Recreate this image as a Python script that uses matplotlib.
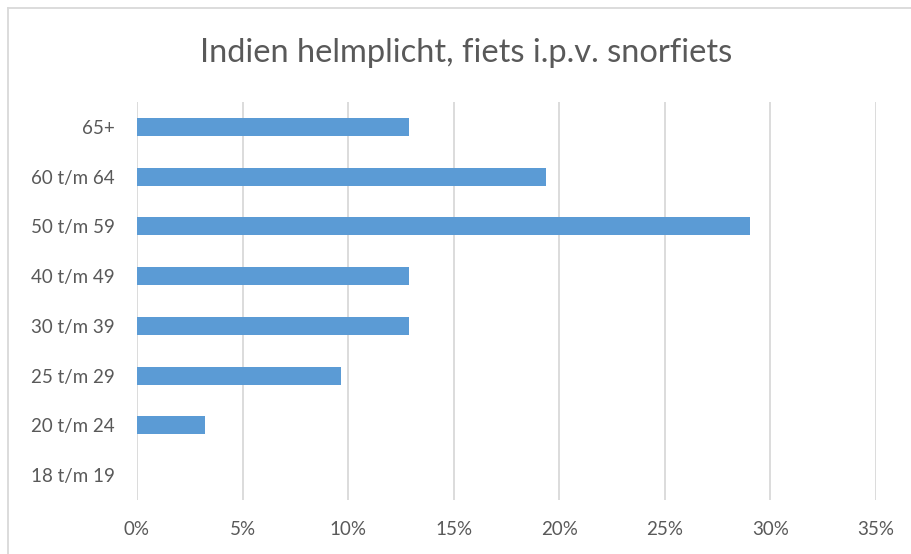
import matplotlib
matplotlib.use("Agg")
import matplotlib.pyplot as plt
from matplotlib.ticker import PercentFormatter
import numpy as np

# leeftijdsgroepen van onder naar boven
categories = ["18 t/m 19", "20 t/m 24", "25 t/m 29", "30 t/m 39",
              "40 t/m 49", "50 t/m 59", "60 t/m 64", "65+"]
shares = [0.0, 3.23, 9.68, 12.90, 12.90, 29.03, 19.35, 12.90]
xticks = [0, 5, 10, 15, 20, 25, 30, 35]

title = "Indien helmplicht, fiets i.p.v. snorfiets"
text_color = "#595959"
grid_color = "#D9D9D9"
bar_color = "#5B9BD5"

plt.rcParams["font.family"] = ["Lato", "DejaVu Sans"]

fig = plt.figure(figsize=(9.12, 5.54), dpi=100)
ax = fig.add_axes([137 / 912, 1 - 500 / 554, (876 - 137) / 912, (500 - 102) / 554])

y = np.arange(len(categories))
ax.barh(y, shares, height=0.36, color=bar_color, zorder=3)

ax.set_xlim(0, 35)
ax.set_ylim(-0.5, len(categories) - 0.5)
ax.set_xticks(xticks)
ax.xaxis.set_major_formatter(PercentFormatter(decimals=0))
ax.set_yticks(y)
ax.set_yticklabels(categories)

ax.grid(axis="x", color=grid_color, linewidth=1.3, zorder=0)
for s in ax.spines.values():
    s.set_visible(False)
ax.tick_params(axis="both", length=0, labelsize=13.5, colors=text_color)
ax.tick_params(axis="x", pad=15)
ax.tick_params(axis="y", pad=16)

fig.text(466 / 912, 1 - 53 / 554, title, ha="center", va="center",
         fontsize=23.5, color=text_color)

# chart border (top and left visible)
fig.add_artist(plt.Line2D([8 / 912, 1.0], [1 - 8 / 554, 1 - 8 / 554],
                          transform=fig.transFigure, color=grid_color, linewidth=1.3))
fig.add_artist(plt.Line2D([8 / 912, 8 / 912], [0.0, 1 - 8 / 554],
                          transform=fig.transFigure, color=grid_color, linewidth=1.3))

fig.savefig("out.png", dpi=100)
